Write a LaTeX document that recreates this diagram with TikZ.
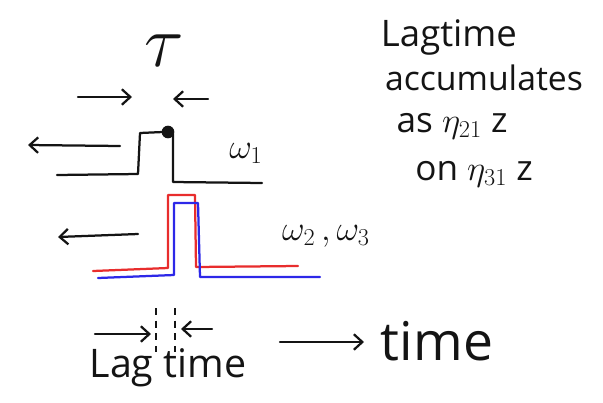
\documentclass[tikz,border=0pt]{standalone}
\usepackage{fontspec}
\setmainfont{Open Sans}
\usetikzlibrary{arrows.meta}
\definecolor{inkclr}{RGB}{20,20,20}
\definecolor{redclr}{RGB}{232,45,45}
\definecolor{blueclr}{RGB}{45,40,232}
\tikzset{
  %% pen strokes
  pen/.style={line width=1.6pt,line cap=round,line join=round,draw=#1},
  pen/.default=inkclr,
  %% hand arrows
  arr/.style={pen,-{Straight Barb[length=6pt,width=11pt,line width=1.6pt]}},
  %% dashed marks for the lag
  dmark/.style={line width=1.3pt,dash pattern=on 5pt off 4pt,draw=inkclr},
  %% handwritten text
  hand/.style={font=\fontsize{#1}{#1}\selectfont,text=inkclr,inner sep=0pt,anchor=base},
}

\begin{document}
\begin{tikzpicture}[x=0.025cm,y=-0.025cm]
  \useasboundingbox (0,0) rectangle (603,402);

  %% tau and its arrows
  \node[hand=24,scale=2.1] (tau) at (164,66) {$\tau$};
  \coordinate (tla) at (78,97);   \coordinate (tlb) at (132,97);
  \coordinate (tra) at (208,99);  \coordinate (trb) at (173,99);
  \draw[arr] (tla) -- (tlb);
  \draw[arr] (tra) -- (trb);

  %% omega 1 pulse
  \draw[pen] (57,175) -- (138,174) -- (140,133) -- (163,132);
  \draw[pen] (173,134) -- (173,182) -- (262,183);
  \node[circle,fill=inkclr,minimum size=9pt,inner sep=0pt] (dot) at (168,132) {};
  \coordinate (wla) at (120,146); \coordinate (wlb) at (28,145);
  \draw[arr] (wla) -- (wlb);
  \node[hand=24] (w1) at (246,158) {$\omega_1$};

  %% omega 2, omega 3 pulses
  \draw[pen=redclr]  (93,271) -- (168,268) -- (168,195) -- (195,195) -- (196,267) -- (298,266);
  \draw[pen=blueclr] (98,278) -- (174,275) -- (174,203) -- (198,203) -- (200,277) -- (320,277);
  \coordinate (vla) at (138,234); \coordinate (vlb) at (58,237);
  \draw[arr] (vla) -- (vlb);
  \node[hand=24] (w23) at (326,240) {$\omega_2\,,\omega_3$};

  %% lag time at the bottom
  \draw[dmark] (156,308) -- (156,352);
  \draw[dmark] (175,308) -- (175,352);
  \coordinate (lla) at (95,334);  \coordinate (llb) at (151,334);
  \coordinate (lra) at (212,329); \coordinate (lrb) at (181,329);
  \draw[arr] (lla) -- (llb);
  \draw[arr] (lra) -- (lrb);
  \node[hand=28] (lag) at (168,377) {Lag time};

  %% time axis
  \coordinate (ta) at (280,342);  \coordinate (tb) at (364,342);
  \draw[arr] (ta) -- (tb);
  \node[hand=38] (time) at (437,360) {time};

  %% note on the right
  \node[hand=26] (n1) at (449,46) {Lagtime};
  \node[hand=24] (n2) at (484,90) {accumulates};
  \node[hand=25] (n3) at (452,132) {as $\eta_{21}$ z};
  \node[hand=25] (n4) at (474,180) {on $\eta_{31}$ z};
\end{tikzpicture}
\end{document}
